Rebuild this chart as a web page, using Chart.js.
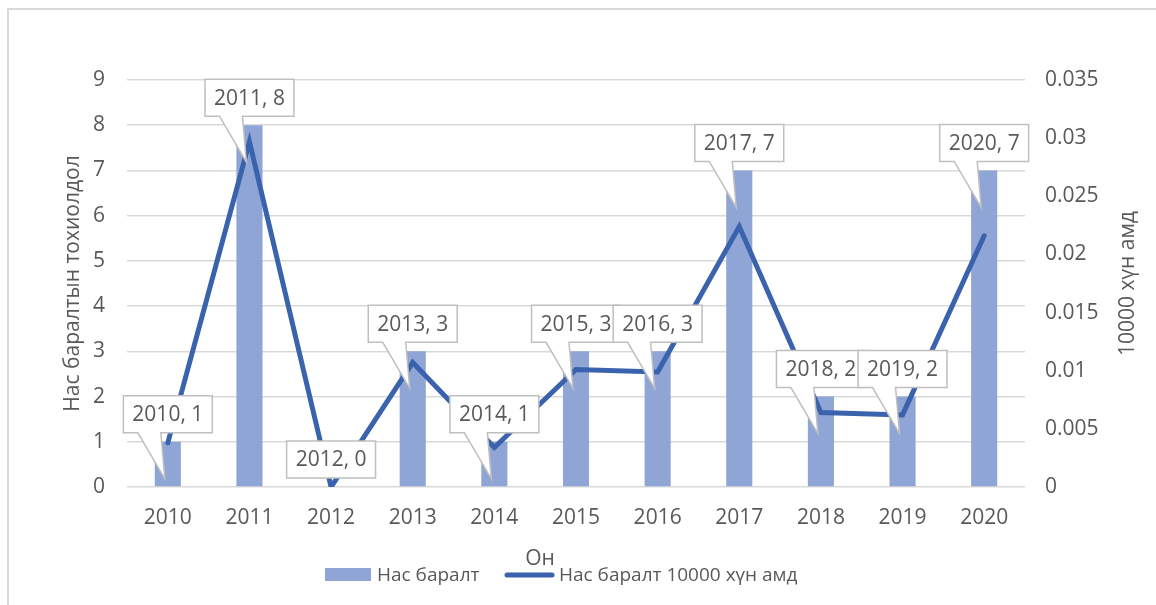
<!DOCTYPE html>
<html>
<head>
<meta charset="utf-8">
<script src="https://cdn.jsdelivr.net/npm/chart.js@4.4.0/dist/chart.umd.min.js"></script>
<style>
    html, body { margin: 0; padding: 0; background: #fff; }
    #wrap { width: 1156px; height: 605px; position: relative; }
</style>
</head>
<body>
<div id="wrap"><canvas id="chart" width="1156" height="605"></canvas></div>
<script>
const years = ['2010', '2011', '2012', '2013', '2014', '2015', '2016', '2017', '2018', '2019', '2020'];
const deaths = [1, 8, 0, 3, 1, 3, 3, 7, 2, 2, 7];
const deathsPer10000 = [0.0038, 0.0297, 0, 0.0107, 0.0034, 0.0101, 0.0099, 0.0224, 0.0064, 0.0062, 0.0216];
const leftTicks = ['0', '1', '2', '3', '4', '5', '6', '7', '8', '9'];
const rightTicks = ['0', '0.005', '0.01', '0.015', '0.02', '0.025', '0.03', '0.035'];

const barName = 'Нас баралт';
const lineName = 'Нас баралт 10000 хүн амд';
const leftTitle = 'Нас баралтын тохиолдол';
const rightTitle = '10000 хүн амд';
const xTitle = 'Он';

const FONT = '"Open Sans", "Liberation Sans", sans-serif';
const TXT = '#595959';
const GRID = '#d9d9d9';
const BAR = '#8FA5D5';
const LINE = '#3B63AD';

// callouts "year, value" above the bars
const calloutPlugin = {
    id: 'callouts',
    afterDatasetsDraw(chart) {
        const ctx = chart.ctx;
        const meta = chart.getDatasetMeta(0);
        const bottom = chart.chartArea.bottom;
        ctx.save();
        ctx.font = '21px ' + FONT;
        meta.data.forEach(function (bar, i) {
            const text = years[i] + ', ' + deaths[i];
            const w = ctx.measureText(text).width + 18;
            const h = 37;
            const x = bar.x;
            const top = bar.y;
            const boxBottom = top - 9;
            const boxTop = boxBottom - h;
            const left = x - w / 2;
            const tipY = Math.min(top + 37, bottom - 6);
            ctx.beginPath();
            ctx.moveTo(left, boxTop);
            ctx.lineTo(left + w, boxTop);
            ctx.lineTo(left + w, boxBottom);
            if (tipY - boxBottom > 15) {
                ctx.lineTo(x - 7, boxBottom);
                ctx.lineTo(x - 3, tipY);
                ctx.lineTo(x - 30, boxBottom);
            }
            ctx.lineTo(left, boxBottom);
            ctx.closePath();
            ctx.fillStyle = '#ffffff';
            ctx.fill();
            ctx.strokeStyle = '#bfbfbf';
            ctx.lineWidth = 1.5;
            ctx.stroke();
            ctx.fillStyle = TXT;
            ctx.textAlign = 'center';
            ctx.textBaseline = 'middle';
            ctx.fillText(text, x, boxTop + h / 2 + 1);
        });
        ctx.restore();
    }
};

// frame, right axis title, x title and legend
const decorPlugin = {
    id: 'decor',
    beforeDraw(chart) {
        const ctx = chart.ctx;
        ctx.save();
        ctx.fillStyle = '#ffffff';
        ctx.fillRect(0, 0, chart.width, chart.height);
        ctx.strokeStyle = GRID;
        ctx.lineWidth = 2;
        ctx.beginPath();
        ctx.moveTo(8, chart.height + 2);
        ctx.lineTo(8, 9);
        ctx.lineTo(chart.width + 2, 9);
        ctx.stroke();
        ctx.restore();
    },
    afterDraw(chart) {
        const ctx = chart.ctx;
        const area = chart.chartArea;
        ctx.save();
        ctx.fillStyle = TXT;
        ctx.textBaseline = 'middle';
        ctx.textAlign = 'center';

        ctx.font = '21px ' + FONT;
        ctx.translate(1128, (area.top + area.bottom) / 2);
        ctx.rotate(-Math.PI / 2);
        ctx.fillText(rightTitle, 0, 0);
        ctx.setTransform(1, 0, 0, 1, 0, 0);

        ctx.font = '21px ' + FONT;
        ctx.fillText(xTitle, 540, 559);

        ctx.font = '19px ' + FONT;
        ctx.textAlign = 'left';
        ctx.fillStyle = BAR;
        ctx.fillRect(325, 568, 46, 13);
        ctx.fillStyle = TXT;
        ctx.fillText(barName, 377, 576);

        ctx.strokeStyle = LINE;
        ctx.lineWidth = 5;
        ctx.lineCap = 'round';
        ctx.beginPath();
        ctx.moveTo(507, 575);
        ctx.lineTo(552, 575);
        ctx.stroke();
        ctx.fillText(lineName, 559, 576);
        ctx.restore();
    }
};

new Chart(document.getElementById('chart'), {
    type: 'bar',
    data: {
        labels: years,
        datasets: [{
            label: barName,
            data: deaths,
            backgroundColor: BAR,
            borderWidth: 0,
            barPercentage: 0.32,
            categoryPercentage: 1,
            yAxisID: 'y',
            order: 1
        }, {
            label: lineName,
            type: 'line',
            data: deathsPer10000,
            borderColor: LINE,
            backgroundColor: LINE,
            borderWidth: 5,
            pointRadius: 0,
            tension: 0,
            borderCapStyle: 'round',
            yAxisID: 'y1',
            order: 0
        }]
    },
    options: {
        responsive: false,
        animation: false,
        layout: { padding: { top: 80, left: 0, right: 0, bottom: 0 } },
        plugins: {
            legend: { display: false },
            tooltip: { enabled: false }
        },
        scales: {
            x: {
                grid: { display: false, drawTicks: false },
                border: { display: false },
                ticks: { color: TXT, font: { family: FONT, size: 21 }, padding: 18 },
                afterFit: function (scale) { scale.height = 118; }
            },
            y: {
                position: 'left',
                min: 0,
                max: 9,
                grid: { color: GRID, lineWidth: 1.5, drawTicks: false },
                border: { display: false },
                ticks: {
                    stepSize: 1,
                    color: TXT,
                    padding: 22,
                    font: { family: FONT, size: 21 },
                    callback: function (value, index) { return leftTicks[index]; }
                },
                title: {
                    display: true,
                    text: leftTitle,
                    color: TXT,
                    font: { family: FONT, size: 21 },
                    padding: { top: 60, bottom: 0 }
                },
                afterFit: function (scale) { scale.width = 127; }
            },
            y1: {
                position: 'right',
                min: 0,
                max: 0.035,
                grid: { display: false, drawTicks: false },
                border: { display: false },
                ticks: {
                    stepSize: 0.005,
                    color: TXT,
                    padding: 20,
                    font: { family: FONT, size: 21 },
                    callback: function (value, index) { return rightTicks[index]; }
                },
                afterFit: function (scale) { scale.width = 131; }
            }
        }
    },
    plugins: [decorPlugin, calloutPlugin]
});
</script>
</body>
</html>
